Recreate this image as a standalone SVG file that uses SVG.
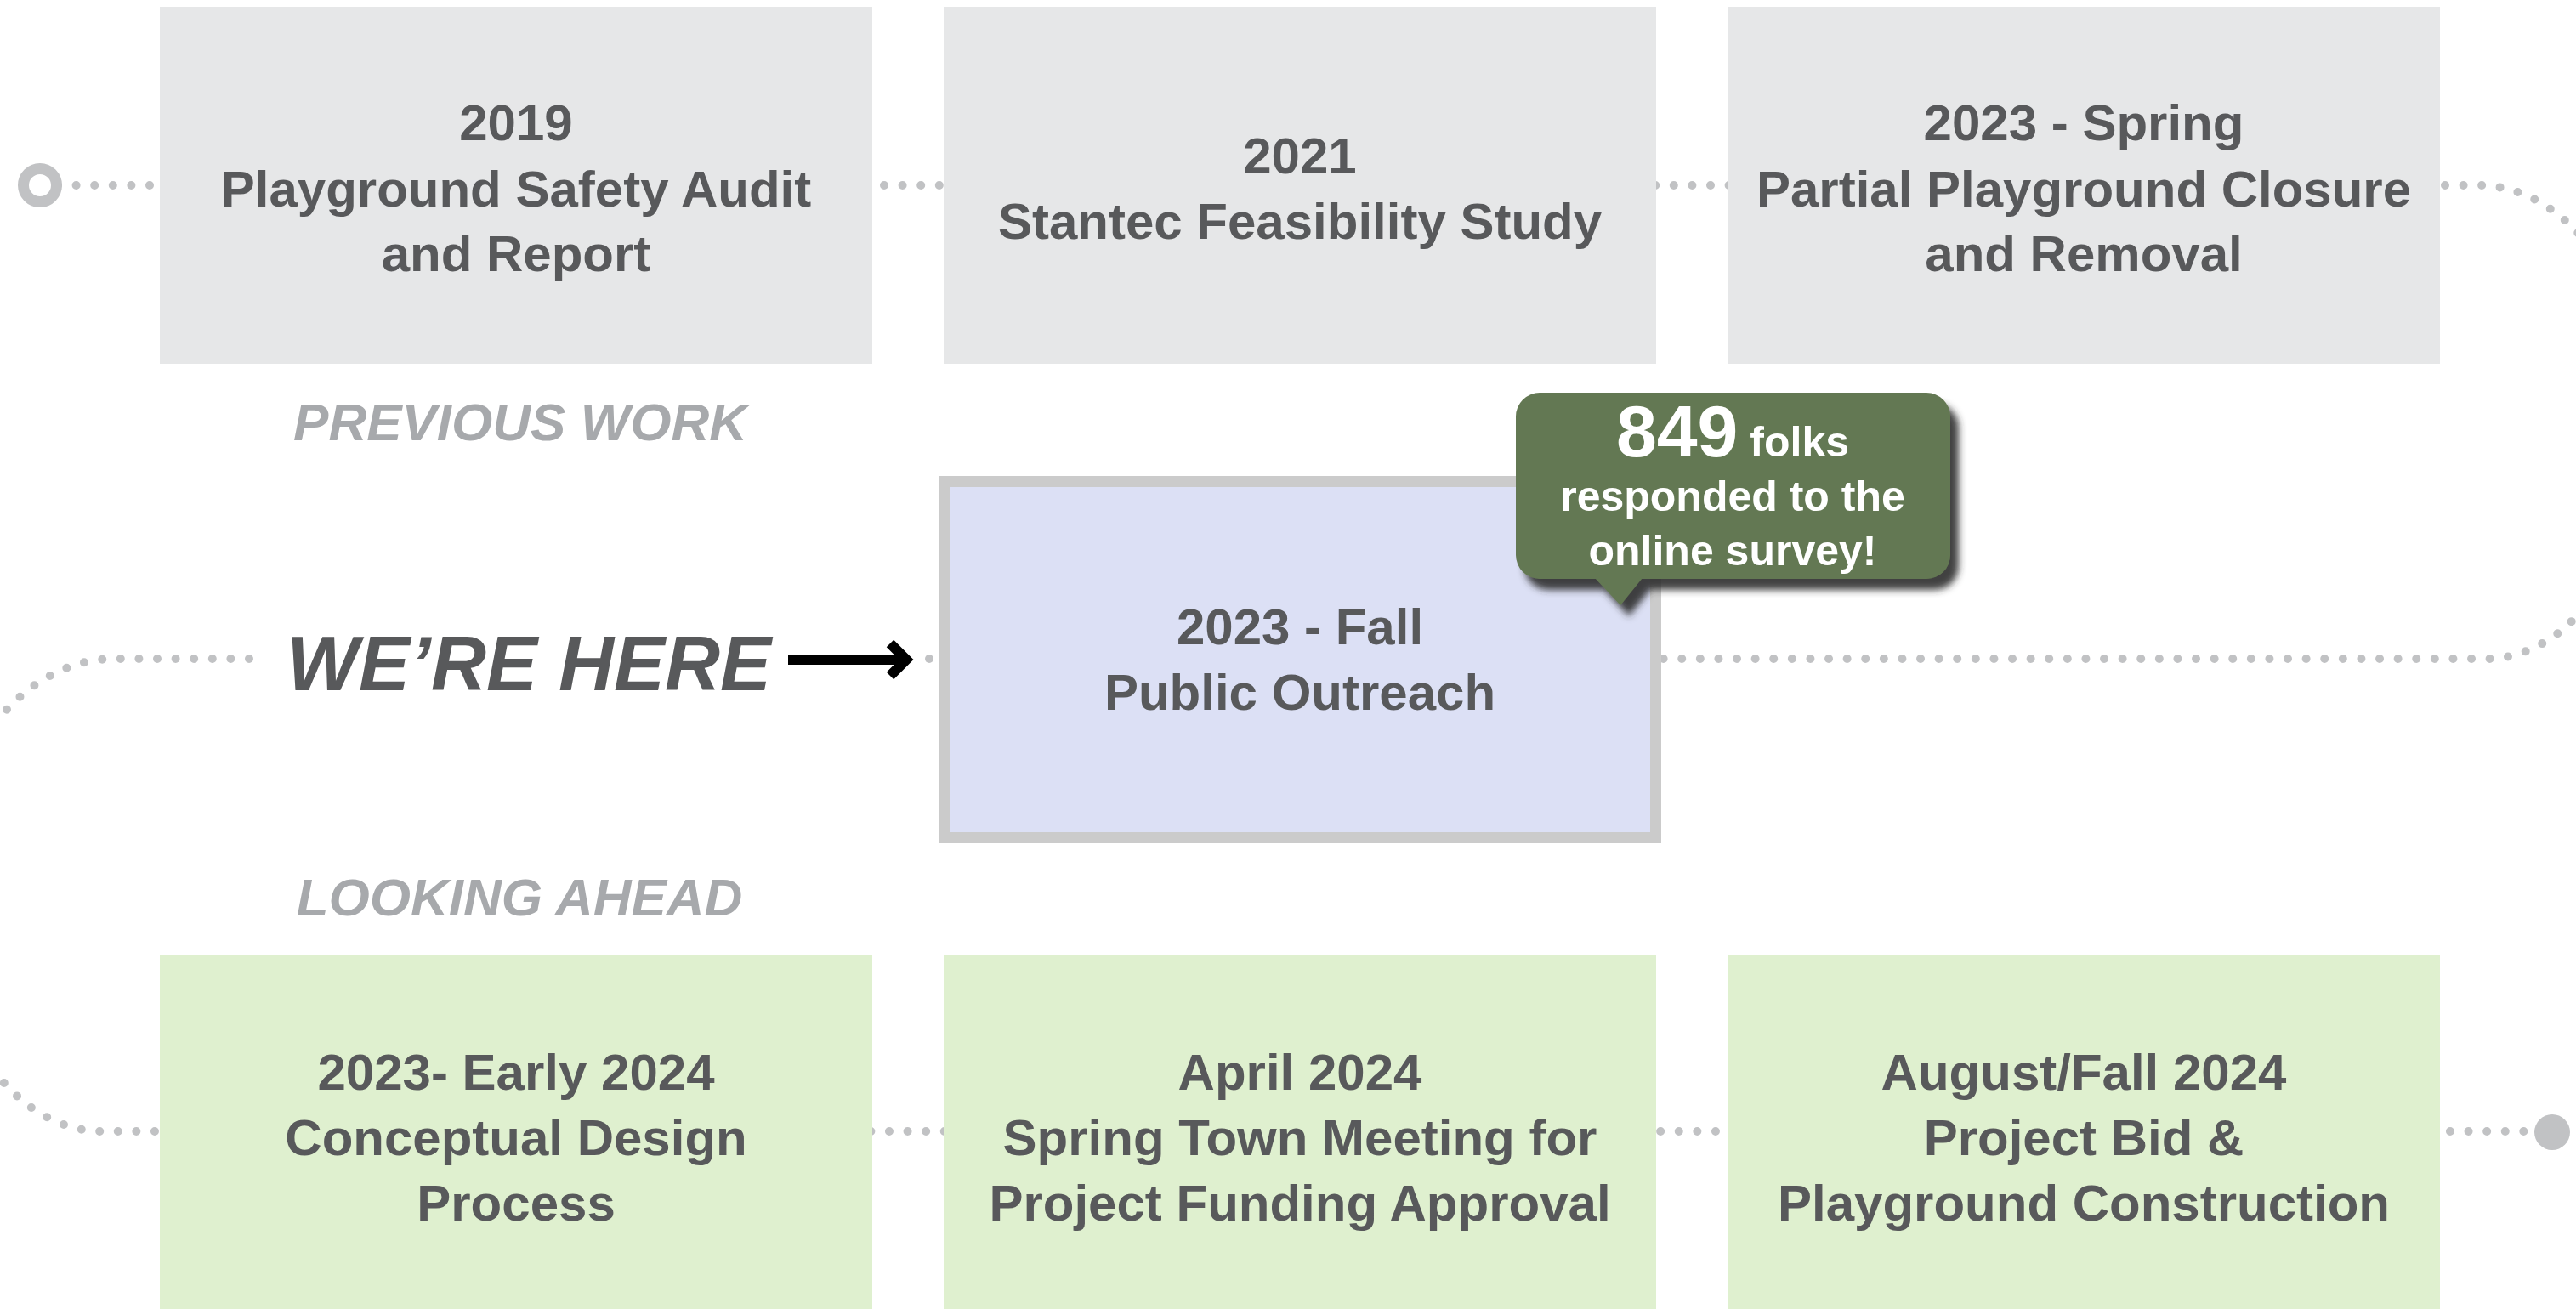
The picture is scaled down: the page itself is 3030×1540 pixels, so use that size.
<svg xmlns="http://www.w3.org/2000/svg" width="3030" height="1540" viewBox="0 0 3030 1540">
<defs>
<style>
.prev{fill:#e6e7e8}
.next{fill:#dff0cf}
.lbl{font-family:"Liberation Sans",Arial,sans-serif;font-weight:bold;font-size:60px;fill:#58595b;text-anchor:middle}
.sec{font-family:"Liberation Sans",Arial,sans-serif;font-weight:bold;font-style:italic;font-size:62px;fill:#a7a9ac;text-anchor:middle}
.dots{fill:none;stroke:#c1c2c4;stroke-width:10;stroke-linecap:round;stroke-dasharray:0 21.6}
.call{font-family:"Liberation Sans",Arial,sans-serif;font-weight:bold;font-size:50px;fill:#ffffff;text-anchor:middle}
</style>
<filter id="shadow" x="-10%" y="-10%" width="130%" height="140%">
<feDropShadow dx="10" dy="13" stdDeviation="4" flood-color="#2e2e2e" flood-opacity="0.9"/>
</filter>
</defs>
<rect width="3030" height="1540" fill="#ffffff"/>

<g id="connectors">
<path class="dots" d="M 68 218 H 2915 A 195 278.5 0 0 1 3110 496.5 A 185 278.5 0 0 1 2925 775 H 1955"/>
<path class="dots" d="M 1093 775 H 1100"/>
<path class="dots" d="M 293 775 H 135 A 205 278 0 0 0 -70 1053 A 190 278 0 0 0 120 1331 H 2985"/>
<circle id="start" cx="47" cy="218" r="19.5" fill="#ffffff" stroke="#c1c2c4" stroke-width="13"/>
<circle id="end" cx="3002" cy="1332" r="21" fill="#c1c2c4"/>
</g>

<g id="node-2019">
<rect class="prev" x="188" y="8" width="838" height="420"/>
<text class="lbl" x="607" y="165">2019</text>
<text class="lbl" x="607" y="243">Playground Safety Audit</text>
<text class="lbl" x="607" y="319">and Report</text>
</g>
<g id="node-2021">
<rect class="prev" x="1110" y="8" width="838" height="420"/>
<text class="lbl" x="1529" y="204">2021</text>
<text class="lbl" x="1529" y="281">Stantec Feasibility Study</text>
</g>
<g id="node-2023-spring">
<rect class="prev" x="2032" y="8" width="838" height="420"/>
<text class="lbl" x="2451" y="165">2023 - Spring</text>
<text class="lbl" x="2451" y="243">Partial Playground Closure</text>
<text class="lbl" x="2451" y="319">and Removal</text>
</g>

<g id="label-previous">
<text class="sec" x="612" y="518">PREVIOUS WORK</text>
</g>

<g id="were-here">
<text x="622" y="812" font-family="'Liberation Sans',Arial,sans-serif" font-weight="bold" font-style="italic" font-size="90" fill="#58595b" text-anchor="middle">WE’RE HERE</text>
<path d="M 927 776 H 1062" stroke="#000000" stroke-width="12" fill="none"/>
<polyline points="1047,757 1066,776 1047,795" stroke="#000000" stroke-width="12" fill="none" stroke-linejoin="miter"/>
</g>

<g id="node-2023-fall">
<rect x="1110.5" y="566.5" width="837" height="419" fill="#dce0f5" stroke="#cbcbcb" stroke-width="13"/>
<text class="lbl" x="1529" y="758">2023 - Fall</text>
<text class="lbl" x="1529" y="835">Public Outreach</text>
</g>

<g id="callout">
<path d="M 1811 462 H 2266 A 28 28 0 0 1 2294 490 V 653 A 28 28 0 0 1 2266 681 H 1931 L 1906 712 L 1877 681 H 1811 A 28 28 0 0 1 1783 653 V 490 A 28 28 0 0 1 1811 462 Z" fill="#647852" filter="url(#shadow)"/>
<text class="call" x="2038" y="537"><tspan font-size="86">849</tspan><tspan> folks</tspan></text>
<text class="call" x="2038" y="601">responded to the</text>
<text class="call" x="2038" y="665">online survey!</text>
</g>

<g id="label-ahead">
<text class="sec" x="611" y="1077">LOOKING AHEAD</text>
</g>

<g id="node-design">
<rect class="next" x="188" y="1124" width="838" height="420"/>
<text class="lbl" x="607" y="1282">2023- Early 2024</text>
<text class="lbl" x="607" y="1359">Conceptual Design</text>
<text class="lbl" x="607" y="1436">Process</text>
</g>
<g id="node-april">
<rect class="next" x="1110" y="1124" width="838" height="420"/>
<text class="lbl" x="1529" y="1282">April 2024</text>
<text class="lbl" x="1529" y="1359">Spring Town Meeting for</text>
<text class="lbl" x="1529" y="1436">Project Funding Approval</text>
</g>
<g id="node-august">
<rect class="next" x="2032" y="1124" width="838" height="420"/>
<text class="lbl" x="2451" y="1282">August/Fall 2024</text>
<text class="lbl" x="2451" y="1359">Project Bid &amp;</text>
<text class="lbl" x="2451" y="1436">Playground Construction</text>
</g>
</svg>
